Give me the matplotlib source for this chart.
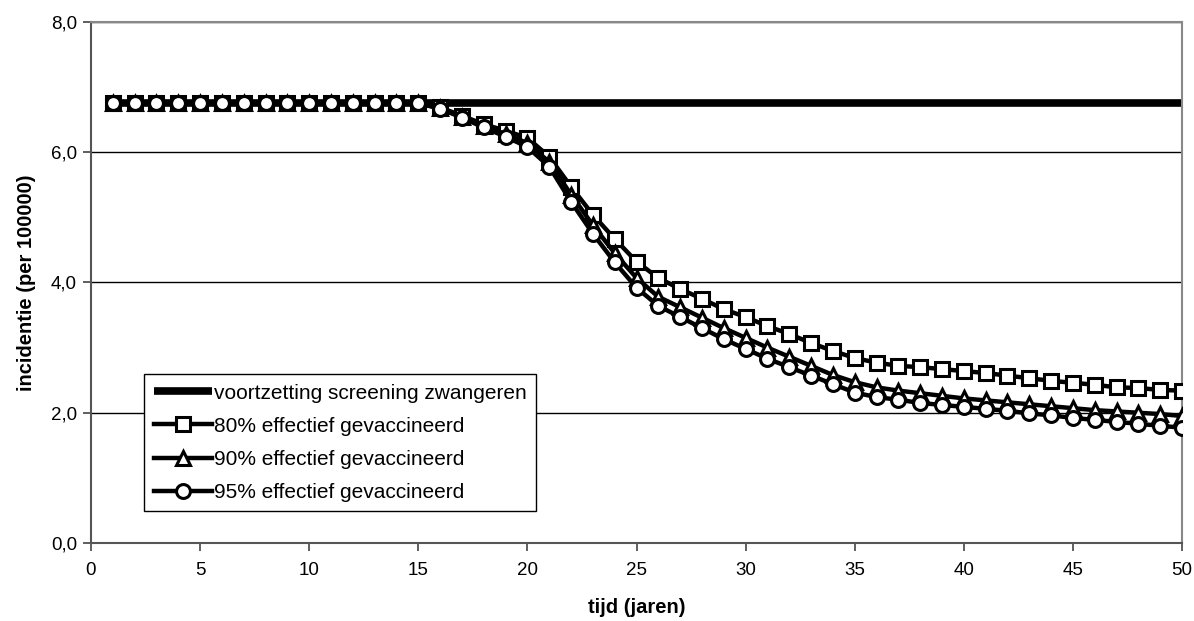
import numpy as np
import matplotlib
matplotlib.use('Agg')
import matplotlib.pyplot as plt
from matplotlib.ticker import FuncFormatter

plt.rcParams['font.family'] = ['Liberation Sans', 'DejaVu Sans']

# jaren en incidentie per 100000
jaren = np.arange(1, 51)

screening = [6.75] * 50

eff80 = [6.75, 6.75, 6.75, 6.75, 6.75, 6.75, 6.75, 6.75, 6.75, 6.75,
         6.75, 6.75, 6.75, 6.75, 6.75, 6.69, 6.56, 6.43, 6.33, 6.22,
         5.93, 5.47, 5.04, 4.67, 4.32, 4.07, 3.90, 3.75, 3.59, 3.47,
         3.33, 3.21, 3.07, 2.95, 2.84, 2.77, 2.72, 2.70, 2.67, 2.64,
         2.61, 2.57, 2.53, 2.49, 2.46, 2.43, 2.39, 2.38, 2.35, 2.34]

eff90 = [6.75, 6.75, 6.75, 6.75, 6.75, 6.75, 6.75, 6.75, 6.75, 6.75,
         6.75, 6.75, 6.75, 6.75, 6.75, 6.68, 6.54, 6.40, 6.28, 6.14,
         5.85, 5.35, 4.88, 4.45, 4.07, 3.78, 3.62, 3.46, 3.30, 3.15,
         3.00, 2.86, 2.72, 2.58, 2.47, 2.39, 2.34, 2.30, 2.26, 2.22,
         2.19, 2.16, 2.13, 2.10, 2.07, 2.04, 2.02, 2.00, 1.98, 1.95]

eff95 = [6.75, 6.75, 6.75, 6.75, 6.75, 6.75, 6.75, 6.75, 6.75, 6.75,
         6.75, 6.75, 6.75, 6.75, 6.75, 6.67, 6.53, 6.38, 6.24, 6.08,
         5.78, 5.24, 4.75, 4.31, 3.92, 3.64, 3.47, 3.30, 3.13, 2.98,
         2.83, 2.70, 2.57, 2.44, 2.31, 2.24, 2.20, 2.15, 2.12, 2.09,
         2.06, 2.03, 1.99, 1.96, 1.92, 1.89, 1.86, 1.83, 1.80, 1.77]

labels = ['voortzetting screening zwangeren',
          '80% effectief gevaccineerd',
          '90% effectief gevaccineerd',
          '95% effectief gevaccineerd']

fig = plt.figure(figsize=(11.94, 6.21), dpi=100)
ax = fig.add_axes([0.0762, 0.1256, 0.9138, 0.839])

ax.plot(jaren, screening, color='black', lw=5.5, solid_capstyle='butt',
        label=labels[0], zorder=2)
mk = dict(color='black', lw=3.2, markerfacecolor='white',
          markeredgecolor='black', markeredgewidth=2.2)
ax.plot(jaren, eff80, marker='s', markersize=10, label=labels[1], zorder=3, **mk)
ax.plot(jaren, eff90, marker='^', markersize=10, label=labels[2], zorder=4, **mk)
ax.plot(jaren, eff95, marker='o', markersize=10, label=labels[3], zorder=5, **mk)

ax.set_xlim(0, 50)
ax.set_ylim(0, 8)
ax.set_xticks(np.arange(0, 51, 5))
ax.set_yticks(np.arange(0, 8.1, 2))
ax.yaxis.set_major_formatter(FuncFormatter(lambda v, p: f'{v:.1f}'.replace('.', ',')))
ax.grid(axis='y', color='black', lw=1)
ax.set_axisbelow(True)
ax.tick_params(labelsize=13.5, length=6, width=1.2, color='#444444', direction='out')
ax.tick_params(axis='x', pad=8)
ax.tick_params(axis='y', pad=4)

for side in ['top', 'right']:
    ax.spines[side].set_color('#888888')
    ax.spines[side].set_linewidth(1.5)
for side in ['left', 'bottom']:
    ax.spines[side].set_color('#555555')
    ax.spines[side].set_linewidth(1.5)

ax.set_xlabel('tijd (jaren)', fontsize=14.5, fontweight='bold', labelpad=13)
ax.set_ylabel('incidentie (per 100000)', fontsize=14.5, fontweight='bold', labelpad=11)

leg = ax.legend(loc='upper left', bbox_to_anchor=(0.049, 0.324), fontsize=15,
                frameon=True, fancybox=False, edgecolor='black', framealpha=1,
                handlelength=2.8, handletextpad=0.1, borderpad=0.45,
                labelspacing=0.68, borderaxespad=0)
leg.get_frame().set_linewidth(1)

fig.savefig('out.png', dpi=100)
